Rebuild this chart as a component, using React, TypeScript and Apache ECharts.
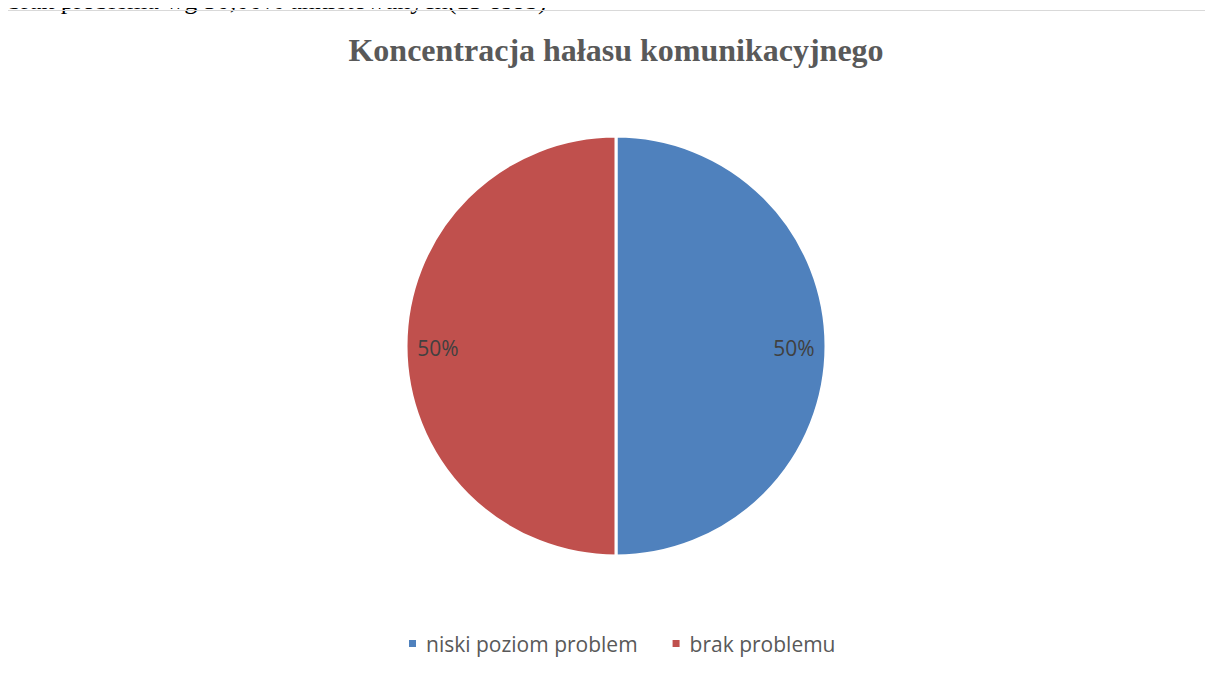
import React, { useEffect, useRef } from "react";
import * as echarts from "echarts";

const categories = ["niski poziom problem", "brak problemu"];
const values = [50, 50];
const colors = ["#4F81BD", "#C0504D"];
const titleText = "Koncentracja hałasu komunikacyjnego";
const headerText = "brak problema wg 50,00% ankietowanych(15 osób)";

export default function App() {
  const ref = useRef<HTMLDivElement>(null);
  useEffect(() => {
    if (!ref.current) return;
    const chart = echarts.init(ref.current, null, { renderer: "svg" });
    chart.setOption({
      animation: false,
      title: {
        text: titleText,
        left: 604,
        textAlign: "center",
        top: 18,
        textStyle: {
          fontFamily: "Liberation Serif",
          fontWeight: "bold",
          fontSize: 32,
          color: "#595959",
        },
      },
      legend: {
        data: categories,
        bottom: 25,
        left: 395,
        icon: "rect",
        itemWidth: 9,
        itemHeight: 9,
        itemGap: 33,
        textStyle: {
          fontFamily: "Open Sans",
          fontSize: 21,
          color: "#595959",
          padding: [0, 0, 0, 4],
        },
        selectedMode: false,
      },
      series: [
        {
          type: "pie",
          center: [609, 335],
          radius: [0, 210],
          startAngle: 90,
          clockwise: true,
          silent: true,
          itemStyle: { borderColor: "#fff", borderWidth: 3 },
          label: {
            show: true,
            position: "inside",
            formatter: "{d}%",
            fontFamily: "Open Sans",
            fontSize: 21,
            color: "#404040",
          },
          labelLine: { show: false },
          data: categories.map((name, i) => ({
            name,
            value: values[i],
            itemStyle: { color: colors[i] },
            label: { offset: [i === 0 ? 70 : -70, 2] },
          })),
        },
      ],
    });
    return () => chart.dispose();
  }, []);
  return (
    <div style={{ position: "relative", width: 1213, height: 673, margin: -8, overflow: "hidden", background: "#fff" }}>
      <div
        style={{
          position: "absolute",
          left: 8,
          top: -12,
          fontFamily: "Liberation Serif",
          fontSize: 26,
          color: "#000",
          whiteSpace: "nowrap",
          lineHeight: "26px",
        }}
      >
        {headerText}
      </div>
      <div
        style={{
          position: "absolute",
          left: 6,
          top: 10,
          width: 1220,
          height: 680,
          border: "1px solid #d9d9d9",
          boxSizing: "border-box",
        }}
      >
        <div ref={ref} style={{ width: 1212, height: 673 }} />
      </div>
    </div>
  );
}
